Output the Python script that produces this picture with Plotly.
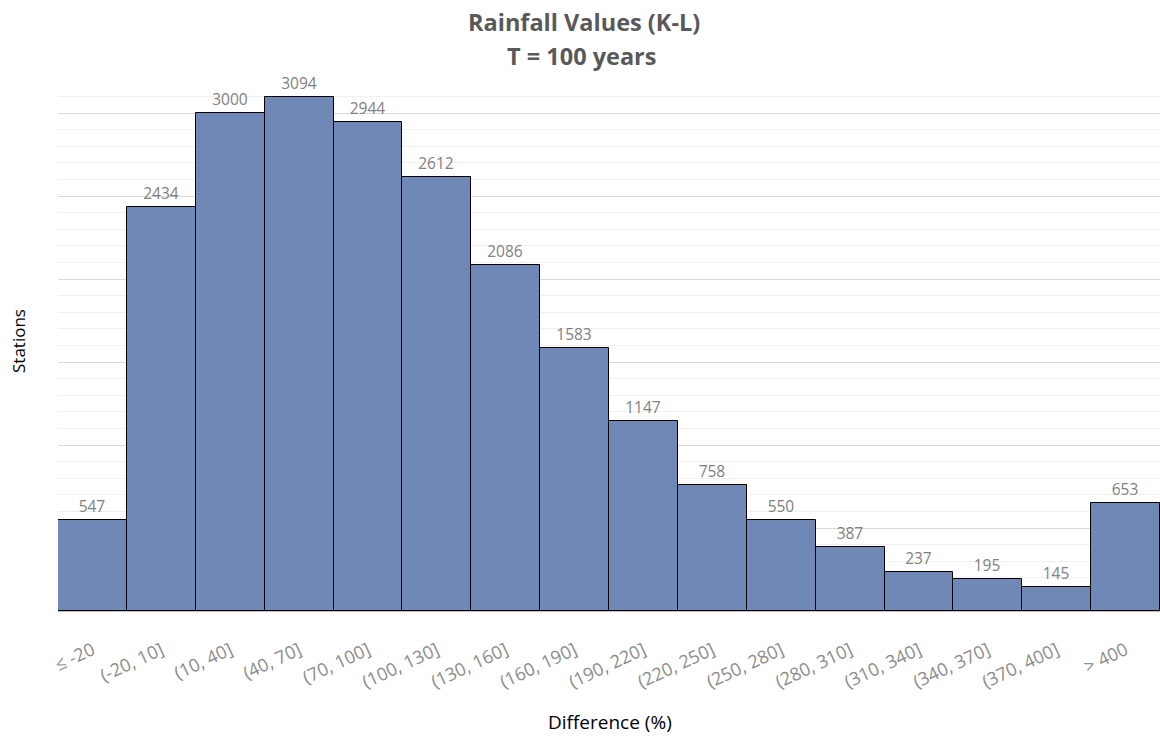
import plotly.graph_objects as go

categories = ["≤ -20", "(-20, 10]", "(10, 40]", "(40, 70]", "(70, 100]", "(100, 130]",
              "(130, 160]", "(160, 190]", "(190, 220]", "(220, 250]", "(250, 280]",
              "(280, 310]", "(310, 340]", "(340, 370]", "(370, 400]", "> 400"]
stations = [547, 2434, 3000, 3094, 2944, 2612, 2086, 1583, 1147, 758, 550, 387, 237, 195, 145, 653]

FONT = "Open Sans"
W, H = 1160, 740
ML, MR, MT, MB = 58, 0, 79, 129
PLOT_W = W - ML - MR
PLOT_H = H - MT - MB


def px_to_paper_x(px):
    return (px - ML) / PLOT_W


def px_to_paper_y(py):
    return (H - MB - py) / PLOT_H


fig = go.Figure(go.Bar(
    x=categories,
    y=stations,
    marker=dict(color="#6F88B5", line=dict(color="#000000", width=1)),
    text=[str(v) for v in stations],
    textposition="outside",
    textfont=dict(family=FONT, size=15.5, color="#7F7F7F"),
    cliponaxis=False,
    width=1.0,
))

annotations = [
    dict(text="<b>Rainfall Values (K-L)</b>", x=px_to_paper_x(584), y=px_to_paper_y(22),
         font=dict(family=FONT, size=23.5, color="#595959")),
    dict(text="<b>T = 100 years</b>", x=px_to_paper_x(581), y=px_to_paper_y(56),
         font=dict(family=FONT, size=23.5, color="#595959")),
    dict(text="Difference (%)", x=px_to_paper_x(610), y=px_to_paper_y(722),
         font=dict(family=FONT, size=19, color="#000000")),
    dict(text="Stations", x=px_to_paper_x(19), y=px_to_paper_y(341), textangle=-90,
         font=dict(family=FONT, size=17, color="#000000")),
]
for a in annotations:
    a.update(xref="paper", yref="paper", xanchor="center", yanchor="middle", showarrow=False)

fig.update_layout(
    width=W, height=H,
    margin=dict(l=ML, r=MR, t=MT, b=MB),
    paper_bgcolor="white", plot_bgcolor="white",
    bargap=0,
    showlegend=False,
    annotations=annotations,
    xaxis=dict(
        tickangle=-25,
        tickfont=dict(family=FONT, size=18, color="#8C8C8C"),
        ticklabelstandoff=21,
        showline=True, linecolor="#BFBFBF", linewidth=1,
        showgrid=False, ticks="",
    ),
    yaxis=dict(
        range=[0, 3205],
        dtick=500,
        showticklabels=False,
        showgrid=True, gridcolor="#D9D9D9", gridwidth=1,
        zeroline=False,
        minor=dict(dtick=100, showgrid=True, gridcolor="#F0F0F0", gridwidth=1),
    ),
)

fig.write_html("out.html")
